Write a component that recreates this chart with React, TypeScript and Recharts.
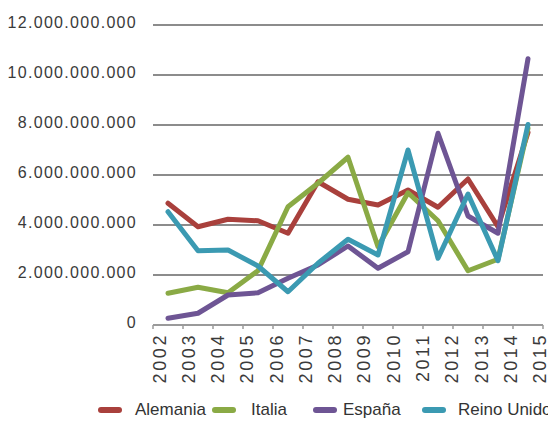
import { LineChart, Line, XAxis, YAxis, CartesianGrid, Legend } from 'recharts';

const years = ['2002', '2003', '2004', '2005', '2006', '2007', '2008', '2009', '2010', '2011', '2012', '2013', '2014', '2015'];
const seriesNames = ['Alemania', 'Italia', 'España', 'Reino Unido'];

const alemania = [4.87e9, 3.93e9, 4.23e9, 4.17e9, 3.67e9, 5.73e9, 5.03e9, 4.8e9, 5.4e9, 4.71e9, 5.84e9, 3.93e9, 7.7e9];
const italia = [1.27e9, 1.51e9, 1.29e9, 2.17e9, 4.73e9, 5.67e9, 6.71e9, 3.13e9, 5.29e9, 4.17e9, 2.17e9, 2.63e9, 7.87e9];
const espana = [0.27e9, 0.47e9, 1.2e9, 1.29e9, 1.87e9, 2.4e9, 3.16e9, 2.27e9, 2.93e9, 7.67e9, 4.36e9, 3.67e9, 10.65e9];
const reinoUnido = [4.53e9, 2.97e9, 3.0e9, 2.36e9, 1.33e9, 2.47e9, 3.43e9, 2.8e9, 7.0e9, 2.67e9, 5.24e9, 2.57e9, 8.02e9];

const yTicks = [0, 2e9, 4e9, 6e9, 8e9, 10e9, 12e9];

// points sit between the year ticks, so each value goes in the middle of its interval
const data = alemania.map((v, i) => ({
  x: i + 0.5,
  alemania: v,
  italia: italia[i],
  espana: espana[i],
  reino: reinoUnido[i]
}));

const xTicks = years.map((_, i) => i);

const formatNum = (v: number) => String(Math.round(v)).replace(/\B(?=(\d{3})+(?!\d))/g, '.');

// the year labels drift slightly left of their ticks going right, like the original
const YearTick = ({ x, y, payload }: any) => (
  <text
    x={x}
    y={y}
    dy={12.5 - payload.value * 0.72}
    transform={`rotate(-90 ${x} ${y})`}
    textAnchor="end"
    fill="#3a3a3a"
    fontSize={18}
    letterSpacing={2.6}
    fontFamily="'Liberation Sans', Arial, sans-serif"
  >
    {years[payload.value]}
  </text>
);

const ValueTick = ({ x, y, payload }: any) => (
  <text
    x={x}
    y={y}
    dy={3.3}
    textAnchor="end"
    fill="#3a3a3a"
    fontSize={16}
    letterSpacing={1.3}
    fontFamily="'Liberation Sans', Arial, sans-serif"
  >
    {formatNum(payload.value)}
  </text>
);

const itemWidths = [114, 101, 109, 140];
const swatchGaps = [13, 15, 6, 12];

const CustomLegend = ({ payload }: any) => {
  const items = [...(payload || [])].sort(
    (a: any, b: any) => seriesNames.indexOf(a.value) - seriesNames.indexOf(b.value)
  );
  return (
    <div
      style={{
        display: 'flex',
        flexWrap: 'nowrap',
        whiteSpace: 'nowrap',
        alignItems: 'center',
        height: 26,
        paddingLeft: 98,
        fontFamily: "'Liberation Sans', Arial, sans-serif",
        fontSize: 17,
        color: '#333'
      }}
    >
      {items.map((item: any, i: number) => (
        <div key={item.value} style={{ display: 'flex', alignItems: 'center', width: itemWidths[i], flexShrink: 0 }}>
          <span
            style={{
              display: 'inline-block',
              width: 24,
              height: 6,
              borderRadius: 3,
              background: item.color,
              marginRight: swatchGaps[i]
            }}
          />
          <span>{item.value}</span>
        </div>
      ))}
    </div>
  );
};

const App = () => {
  return (
    <div
      style={{
        position: 'fixed',
        left: 0,
        top: 0,
        width: 548,
        height: 423,
        overflow: 'hidden',
        background: '#fff'
      }}
    >
      <LineChart width={548} height={423} data={data} margin={{ top: 25, right: 5, left: 0, bottom: 0 }}>
        <CartesianGrid vertical={false} stroke="#8c8c8c" strokeWidth={2} />
        <XAxis
          type="number"
          dataKey="x"
          domain={[0, 13]}
          ticks={xTicks}
          interval={0}
          height={72}
          tick={<YearTick />}
          tickSize={4}
          tickMargin={4}
          axisLine={{ stroke: '#9a9a9a', strokeWidth: 2 }}
          tickLine={{ stroke: '#9a9a9a', strokeWidth: 1.5 }}
        />
        <YAxis
          width={153}
          domain={[0, 12e9]}
          ticks={yTicks}
          interval={0}
          tick={<ValueTick />}
          tickLine={false}
          axisLine={false}
          tickSize={0}
          tickMargin={16}
        />
        <Legend verticalAlign="bottom" content={<CustomLegend />} />
        <Line name={seriesNames[0]} dataKey="alemania" stroke="#a9403c" strokeWidth={5} dot={false} strokeLinecap="round" strokeLinejoin="round" isAnimationActive={false} />
        <Line name={seriesNames[1]} dataKey="italia" stroke="#8aaa45" strokeWidth={5} dot={false} strokeLinecap="round" strokeLinejoin="round" isAnimationActive={false} />
        <Line name={seriesNames[2]} dataKey="espana" stroke="#6e5594" strokeWidth={5} dot={false} strokeLinecap="round" strokeLinejoin="round" isAnimationActive={false} />
        <Line name={seriesNames[3]} dataKey="reino" stroke="#3b9ab2" strokeWidth={5} dot={false} strokeLinecap="round" strokeLinejoin="round" isAnimationActive={false} />
      </LineChart>
    </div>
  );
};

export default App;
